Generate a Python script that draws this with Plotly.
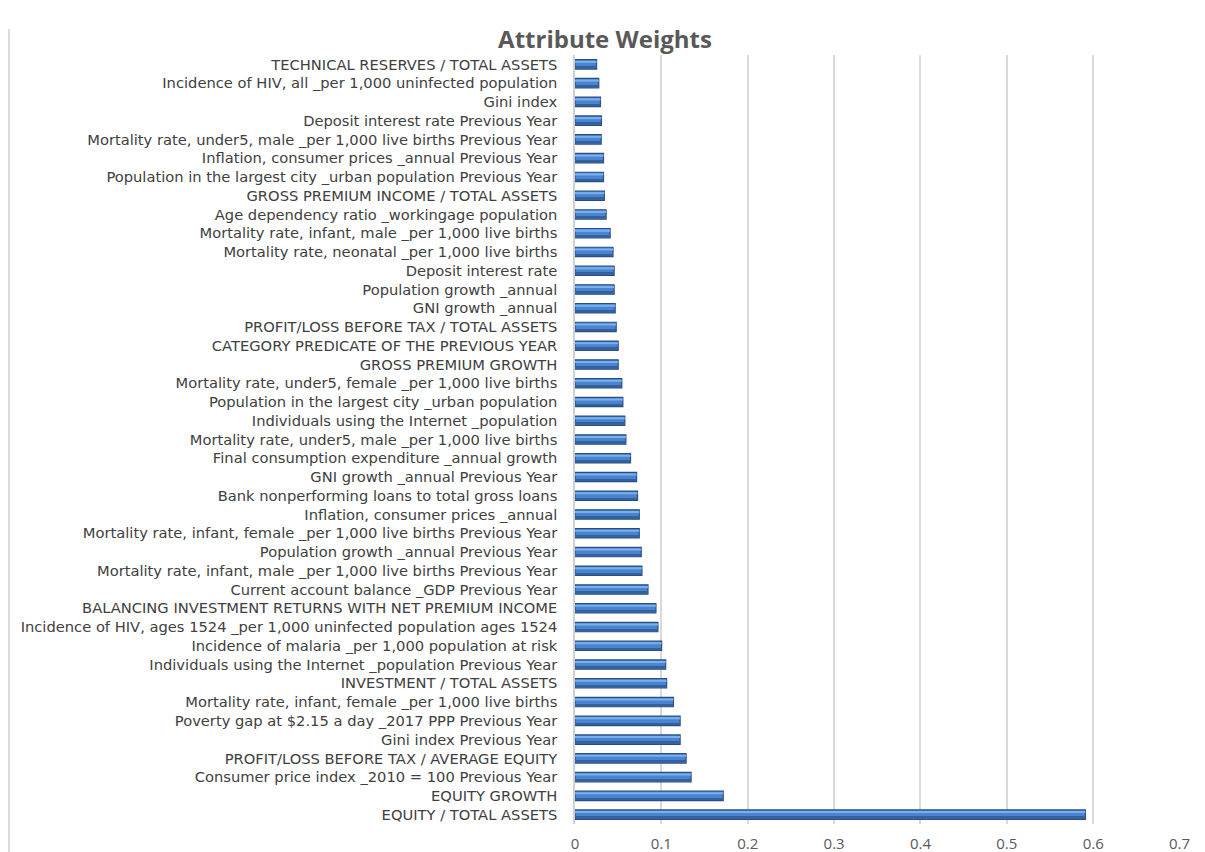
import plotly.graph_objects as go

attributes = [
    "TECHNICAL RESERVES / TOTAL ASSETS",
    "Incidence of HIV, all _per 1,000 uninfected population",
    "Gini index",
    "Deposit interest rate Previous Year",
    "Mortality rate, under5, male _per 1,000 live births Previous Year",
    "Inflation, consumer prices _annual Previous Year",
    "Population in the largest city _urban population Previous Year",
    "GROSS PREMIUM INCOME / TOTAL ASSETS",
    "Age dependency ratio _workingage population",
    "Mortality rate, infant, male _per 1,000 live births",
    "Mortality rate, neonatal _per 1,000 live births",
    "Deposit interest rate",
    "Population growth _annual",
    "GNI growth _annual",
    "PROFIT/LOSS BEFORE TAX / TOTAL ASSETS",
    "CATEGORY PREDICATE OF THE PREVIOUS YEAR",
    "GROSS PREMIUM GROWTH",
    "Mortality rate, under5, female _per 1,000 live births",
    "Population in the largest city _urban population",
    "Individuals using the Internet _population",
    "Mortality rate, under5, male _per 1,000 live births",
    "Final consumption expenditure _annual growth",
    "GNI growth _annual Previous Year",
    "Bank nonperforming loans to total gross loans",
    "Inflation, consumer prices _annual",
    "Mortality rate, infant, female _per 1,000 live births Previous Year",
    "Population growth _annual Previous Year",
    "Mortality rate, infant, male _per 1,000 live births Previous Year",
    "Current account balance _GDP Previous Year",
    "BALANCING INVESTMENT RETURNS WITH NET PREMIUM INCOME",
    "Incidence of HIV, ages 1524 _per 1,000 uninfected population ages 1524",
    "Incidence of malaria _per 1,000 population at risk",
    "Individuals using the Internet _population Previous Year",
    "INVESTMENT / TOTAL ASSETS",
    "Mortality rate, infant, female _per 1,000 live births",
    "Poverty gap at $2.15 a day _2017 PPP Previous Year",
    "Gini index Previous Year",
    "PROFIT/LOSS BEFORE TAX / AVERAGE EQUITY",
    "Consumer price index _2010 = 100 Previous Year",
    "EQUITY GROWTH",
    "EQUITY / TOTAL ASSETS",
]

weights = [
    0.025, 0.0275, 0.0295, 0.0306, 0.0303, 0.033, 0.033, 0.034, 0.036, 0.0407,
    0.044, 0.0453, 0.0453, 0.0465, 0.0477, 0.050, 0.050, 0.0542, 0.0554, 0.0577,
    0.0589, 0.0643, 0.0713, 0.0724, 0.0744, 0.0744, 0.0767, 0.0775, 0.0845, 0.0937,
    0.096, 0.1003, 0.105, 0.1061, 0.114, 0.1217, 0.1217, 0.1286, 0.1344, 0.1716,
    0.591,
]

x_ticks = [0, 0.1, 0.2, 0.3, 0.4, 0.5, 0.6, 0.7]
x_tick_text = ["0", "0.1", "0.2", "0.3", "0.4", "0.5", "0.6", "0.7"]

FONT = "Open Sans, sans-serif"
LABEL_FONT = "DejaVu Sans, sans-serif"

fig = go.Figure()
# main bar body
fig.add_trace(go.Bar(
    x=weights, y=attributes, orientation="h",
    marker=dict(color="#4A84CF", line=dict(color="#2A4E80", width=1.2)),
    width=0.5, hoverinfo="x+y",
))
# bevel highlight (top)
fig.add_trace(go.Bar(
    x=weights, y=attributes, orientation="h",
    marker=dict(color="#78B0F0", line=dict(width=0)),
    width=0.11, offset=-0.19, hoverinfo="skip",
))
# bevel shadow (bottom)
fig.add_trace(go.Bar(
    x=weights, y=attributes, orientation="h",
    marker=dict(color="#33619E", line=dict(width=0)),
    width=0.1, offset=0.12, hoverinfo="skip",
))

# the page body has an 8px margin, so positions are shifted by 8px
W, H = 1197, 844
L, T, B = 567, 47, 28
pw = 605
R = W - L - pw
ph = H - T - B

fig.update_layout(
    width=W, height=H,
    margin=dict(l=L, r=R, t=T, b=B, autoexpand=False),
    paper_bgcolor="white", plot_bgcolor="white",
    font=dict(family=FONT, size=13, color="#404040"),
    title=dict(text="<b>Attribute Weights</b>", x=597 / W, xref="container", xanchor="center",
               y=1 - 32 / H, yref="container", yanchor="middle",
               font=dict(family=FONT, size=24, color="#595959")),
    showlegend=False,
    barmode="overlay",
    xaxis=dict(range=[0, 0.7005], tickvals=x_ticks, ticktext=x_tick_text,
               showgrid=True, gridcolor="#D9D9D9", gridwidth=1.5,
               zeroline=False, showline=False, automargin=False,
               ticks="outside", ticklen=6, tickcolor="rgba(0,0,0,0)",
               tickfont=dict(size=15, color="#595959", family=FONT)),
    yaxis=dict(autorange="reversed", showgrid=False, zeroline=False,
               showline=True, linecolor="#D0D0D0", linewidth=1.5,
               tickmode="array", tickvals=attributes, ticktext=attributes,
               ticks="", ticklabelstandoff=13, automargin=False,
               tickfont=dict(size=14.7, color="#404040", family=LABEL_FONT)),
    shapes=[dict(type="line", xref="paper", yref="paper",
                 x0=(0.8 - L) / pw, x1=(0.8 - L) / pw,
                 y0=-B / ph, y1=(H - T - 2) / ph,
                 line=dict(color="#D9D9D9", width=2))],
)

fig.write_html("out.html")
